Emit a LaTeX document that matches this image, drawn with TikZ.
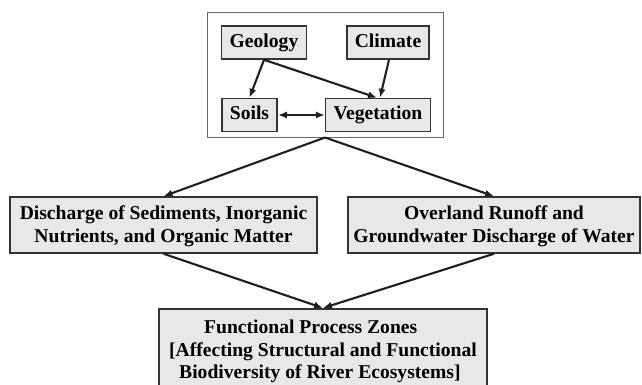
\documentclass[tikz,border=0pt]{standalone}
\usepackage{fontspec}
\setmainfont{Liberation Serif}
\usetikzlibrary{arrows.meta}
\tikzset{>={Latex[length=9pt,width=7pt]}}
\definecolor{boxfill}{HTML}{E8E8E8}
\definecolor{boxline}{HTML}{333333}
\tikzset{base/.style={draw=boxline,fill=boxfill,line width=1.5pt,font=\fontsize{19.6}{22.5}\selectfont\bfseries}}
\tikzset{box/.style={base,inner xsep=8pt,minimum height=33pt,text height=13.5pt,text depth=4.3pt}}
\tikzset{big/.style={base,align=center,minimum height=56pt}}
\tikzset{arr/.style={->,line width=2.1pt,draw=black!88}}

\begin{document}
\begin{tikzpicture}[x=1pt,y=-1pt]
\clip (0,0) rectangle (642,384);
\node[draw=black!60,line width=1pt,minimum width=236pt,minimum height=125pt,inner sep=0pt] (env) at (325,74.5) {};

\node[box] (geo) at (264,42.5) {Geology};
\node[box] (clim) at (388,42.5) {Climate};
\node[box] (soil) at (249.5,115) {Soils};
\node[box] (veg) at (378,115) {Vegetation};

\node[big,minimum width=307pt,text depth=1.5pt] (disch) at (163.5,225) {Discharge of Sediments, Inorganic\\Nutrients, and Organic Matter};
\node[big,minimum width=292pt,text depth=1.5pt] (over) at (494,225) {Overland Runoff and\\Groundwater Discharge of Water};
\node[big,minimum width=328pt,minimum height=86pt,anchor=north,align=left] (func) at (323,308) {\hspace*{35pt}Functional Process Zones\\{}[Affecting Structural and Functional\\\hspace*{10pt}Biodiversity of River Ecosystems]};

\draw[arr] (geo.south) -- (soil.north);
\draw[arr] (geo.south) -- ([xshift=-1pt]veg.north);
\draw[arr] ([xshift=1pt]clim.south) -- ([xshift=2pt]veg.north);
\draw[arr,<->] (soil.east) -- (veg.west);

\draw[arr] (env.south) -- (disch.north);
\draw[arr] (env.south) -- (over.north);
\draw[arr] (disch.south) -- (func.north);
\draw[arr] (over.south) -- (func.north);
\end{tikzpicture}
\end{document}
